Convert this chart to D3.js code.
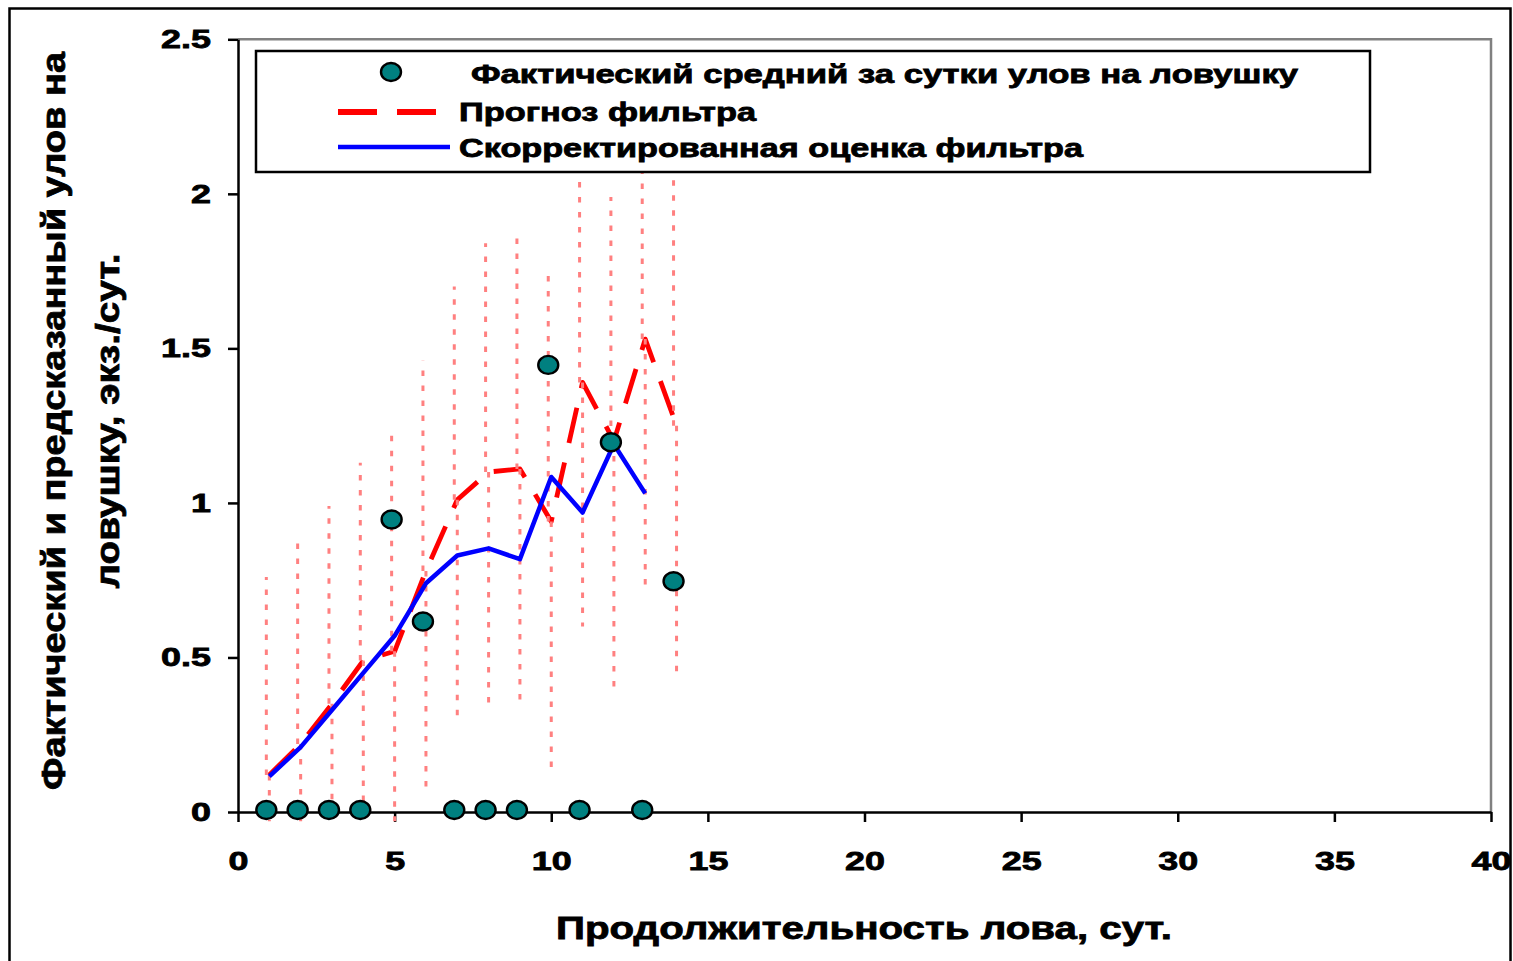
<!DOCTYPE html>
<html>
<head>
<meta charset="utf-8">
<script src="https://cdn.jsdelivr.net/npm/d3@7"></script>
<style>
  html, body { margin: 0; padding: 0; background: #fff; }
  svg { display: block; }
  text { font-family: Arial, "Liberation Sans", sans-serif; font-weight: bold; fill: #000; stroke: #000; stroke-width: 0.8px; }
</style>
</head>
<body>
<script>
// ---------- data ----------
const days = [1, 2, 3, 4, 5, 6, 7, 8, 9, 10, 11, 12, 13, 14];
const actualCatch = [0, 0, 0, 0, 0.94, 0.61, 0, 0, 0, 1.44, 0, 1.19, 0, 0.74];
const forecast = [0.12, 0.22, 0.35, 0.49, 0.52, 0.78, 1.01, 1.10, 1.11, 0.94, 1.39, 1.20, 1.53, 1.25];
const correctedDays = [1, 2, 3, 4, 5, 6, 7, 8, 9, 10, 11, 12, 13];
const corrected = [0.115, 0.21, 0.33, 0.45, 0.57, 0.74, 0.83, 0.853, 0.818, 1.084, 0.969, 1.19, 1.031];
const upperBound = [0.76, 0.87, 0.99, 1.13, 1.23, 1.46, 1.70, 1.84, 1.86, 1.735, 2.18, 1.99, 2.33, 2.06];
const lowerBound = [-0.03, -0.03, -0.03, -0.03, -0.03, 0.06, 0.30, 0.34, 0.355, 0.14, 0.60, 0.387, 0.73, 0.445];

const xTicks = [0, 5, 10, 15, 20, 25, 30, 35, 40];
const xTickLabels = ["0", "5", "10", "15", "20", "25", "30", "35", "40"];
const yTicks = [0, 0.5, 1, 1.5, 2, 2.5];
const yTickLabels = ["0", "0.5", "1", "1.5", "2", "2.5"];

const legendLabels = [
  "Фактический средний за сутки улов на ловушку",
  "Прогноз фильтра",
  "Скорректированная оценка фильтра"
];
const xTitle = "Продолжительность лова, сут.";
const yTitleLines = ["Фактический и предсказанный улов на", "ловушку, экз./сут."];

// ---------- layout ----------
const W = 1513, H = 961;
const svg = d3.select("body").append("svg").attr("width", W).attr("height", H);

const x = d3.scaleLinear().domain([0, 40]).range([238, 1491]);
const y = d3.scaleLinear().domain([0, 2.5]).range([812, 39.3]);

const TEAL = "#008080", RED = "#ff0000", BLUE = "#0000ff", PINK = "#ff8080";
const MARK_DX = -3, MARK_DY = -2;   // visual offset of markers / upper bars in the original

// outer chart border
svg.append("rect").attr("x", 9.5).attr("y", 8.5).attr("width", 1501).attr("height", 1000)
  .attr("fill", "#fff").attr("stroke", "#000").attr("stroke-width", 2.5);

// plot-area frame (grey top/right)
svg.append("path")
  .attr("d", `M${x(0)},${y(2.5)}H${x(40)}V${y(0)}`)
  .attr("fill", "none").attr("stroke", "#808080").attr("stroke-width", 2.5);

// helper: stretch text horizontally around its anchor
function stretch(sel, sx) {
  sel.each(function () {
    const t = d3.select(this);
    const tx = +t.attr("x") || 0, ty = +t.attr("y") || 0;
    t.attr("x", 0).attr("y", 0).attr("transform", `translate(${tx},${ty}) scale(${sx},1)`);
  });
}

// axes
const yAxis = d3.axisLeft(y).tickValues(yTicks).tickFormat((d, i) => yTickLabels[i])
  .tickSize(10).tickSizeOuter(0).tickPadding(17);
const gy = svg.append("g").attr("transform", `translate(${x(0)},0)`).call(yAxis);

const xAxis = d3.axisBottom(x).tickValues(xTicks).tickFormat((d, i) => xTickLabels[i])
  .tickSize(10).tickSizeOuter(0).tickPadding(30);
const gx = svg.append("g").attr("transform", `translate(0,${y(0)})`).call(xAxis);

[gx, gy].forEach(g => {
  g.select(".domain").attr("stroke", "#000").attr("stroke-width", 2.5);
  g.selectAll(".tick line").attr("stroke", "#000").attr("stroke-width", 2.5);
  g.selectAll(".tick text").attr("font-size", 26).attr("font-family", null)
    .attr("fill", "#000").attr("stroke", "#000");
});
stretch(gy.selectAll(".tick text"), 1.38);
stretch(gx.selectAll(".tick text"), 1.38);

// ---------- series ----------
const fcPts = days.map((d, i) => [d, forecast[i]]);
const corrPts = correctedDays.map((d, i) => [d, corrected[i]]);
const line = d3.line().x(d => x(d[0])).y(d => y(d[1]));

// forecast (red dashed)
svg.append("path").attr("d", line(fcPts))
  .attr("fill", "none").attr("stroke", RED).attr("stroke-width", 4.8)
  .attr("stroke-dasharray", "36,20").attr("stroke-linejoin", "round");

// error bars (pink dotted): upper half and lower half
const eb = svg.append("g").attr("stroke", PINK).attr("stroke-width", 3).attr("stroke-dasharray", "5.5,9.5");
eb.selectAll("line.up").data(days).join("line").attr("class", "up")
  .attr("x1", (d) => x(d) + MARK_DX).attr("x2", (d) => x(d) + MARK_DX)
  .attr("y1", (d, i) => y(forecast[i])).attr("y2", (d, i) => y(upperBound[i]));
eb.selectAll("line.lo").data(days).join("line").attr("class", "lo")
  .attr("x1", (d) => x(d)).attr("x2", (d) => x(d))
  .attr("y1", (d, i) => y(forecast[i])).attr("y2", (d, i) => y(lowerBound[i]));

// corrected estimate (blue)
svg.append("path").attr("d", line(corrPts))
  .attr("fill", "none").attr("stroke", BLUE).attr("stroke-width", 4.5)
  .attr("stroke-linejoin", "round");

// actual catch markers
svg.append("g").selectAll("ellipse").data(days).join("ellipse")
  .attr("cx", d => x(d) + MARK_DX).attr("cy", (d, i) => y(actualCatch[i]) + MARK_DY)
  .attr("rx", 10).attr("ry", 9)
  .attr("fill", TEAL).attr("stroke", "#000").attr("stroke-width", 2.4);

// ---------- legend ----------
const lg = svg.append("g");
lg.append("rect").attr("x", 256).attr("y", 51).attr("width", 1114).attr("height", 121)
  .attr("fill", "#fff").attr("stroke", "#000").attr("stroke-width", 2.5);
lg.append("ellipse").attr("cx", 391).attr("cy", 72).attr("rx", 10).attr("ry", 9)
  .attr("fill", TEAL).attr("stroke", "#000").attr("stroke-width", 2.4);
lg.append("line").attr("x1", 338).attr("x2", 437).attr("y1", 112).attr("y2", 112)
  .attr("stroke", RED).attr("stroke-width", 6).attr("stroke-dasharray", "39,20");
lg.append("line").attr("x1", 338).attr("x2", 450).attr("y1", 147).attr("y2", 147)
  .attr("stroke", BLUE).attr("stroke-width", 4.5);

const legendPos = [[471, 83, 827], [459, 121, 297], [459, 157, 624]];
legendLabels.forEach((s, i) => {
  lg.append("text").attr("x", legendPos[i][0]).attr("y", legendPos[i][1])
    .attr("font-size", 25.5).attr("textLength", legendPos[i][2])
    .attr("lengthAdjust", "spacingAndGlyphs").text(s);
});

// ---------- axis titles ----------
svg.append("text").attr("x", 556).attr("y", 939).attr("font-size", 31)
  .attr("textLength", 616).attr("lengthAdjust", "spacingAndGlyphs").text(xTitle);

const yTitlePos = [[65, 738], [119, 335]];
yTitleLines.forEach((s, i) => {
  svg.append("text")
    .attr("transform", `translate(${yTitlePos[i][0]},421) rotate(-90)`)
    .attr("text-anchor", "middle").attr("font-size", 34)
    .attr("textLength", yTitlePos[i][1]).attr("lengthAdjust", "spacingAndGlyphs")
    .text(s);
});
</script>
</body>
</html>
